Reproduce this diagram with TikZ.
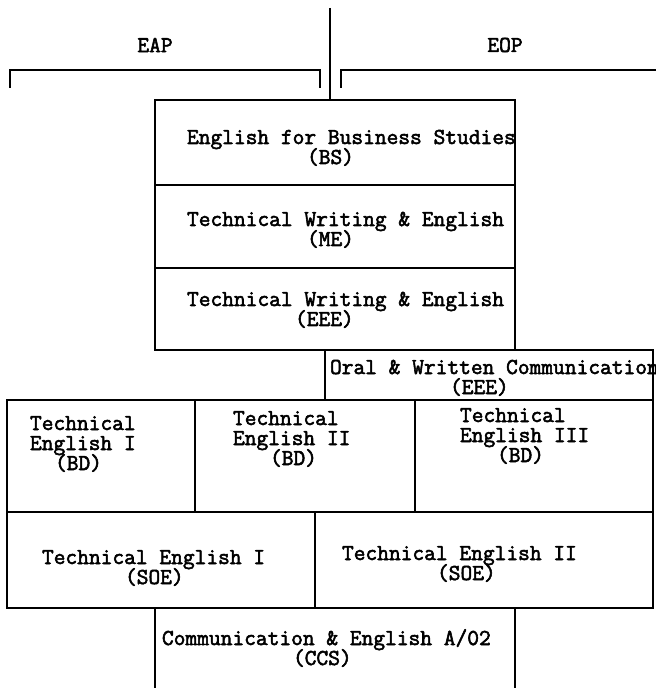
\documentclass[tikz,border=0pt]{standalone}
\usepackage{fontspec}
\newfontfamily\tw{Latin Modern Mono}[FakeBold=2.4]
\begin{document}
\begin{tikzpicture}[x=0.5pt,y=-0.5pt,
  line width=0.9pt,
  box/.style={draw,rectangle,inner sep=0pt,outer sep=0pt,anchor=north west},
  t/.style={inner sep=0pt,outer sep=0pt,anchor=base west,font=\fontsize{11.4}{10}\selectfont\tw},
  hd/.style={inner sep=0pt,anchor=center,font=\fontsize{11.4}{10}\selectfont\tw}]
\useasboundingbox (0,0) rectangle (655,688);
% header
\coordinate (top) at (330,8);
\node[hd] (eap) at (155,45) {EAP};
\node[hd] (eop) at (505,45) {EOP};
\coordinate (l1) at (10,88); \coordinate (l2) at (10,70);
\coordinate (l3) at (320,70); \coordinate (l4) at (320,88);
\coordinate (r1) at (341,88); \coordinate (r2) at (341,70); \coordinate (r3) at (656,70);
\draw (l1) -- (l2) -- (l3) -- (l4);
\draw (r1) -- (r2) -- (r3);
% top stack
\node[box,minimum width=180pt,minimum height=42.5pt] (bs) at (155,100) {};
\node[box,minimum width=180pt,minimum height=41.5pt] (me) at (155,185) {};
\node[box,minimum width=180pt,minimum height=41pt] (eee) at (155,268) {};
\draw (top) -- (top |- bs.north);
% oral
\node[box,minimum width=164pt,minimum height=25pt] (oral) at (325,350) {};
% row 1
\node[box,minimum width=94pt,minimum height=56pt] (bd1) at (7,400) {};
\node[box,minimum width=110pt,minimum height=56pt] (bd2) at (195,400) {};
\node[box,minimum width=119pt,minimum height=56pt] (bd3) at (415,400) {};
% row 2
\node[box,minimum width=154pt,minimum height=48pt] (soe1) at (7,512) {};
\node[box,minimum width=169pt,minimum height=48pt] (soe2) at (315,512) {};
% ccs (open at the bottom)
\coordinate (c1) at (155,690); \coordinate (c2) at (155,608);
\coordinate (c3) at (515,608); \coordinate (c4) at (515,690);
\draw (c1) -- (c2) -- (c3) -- (c4);
% texts
\node[t] (t1) at (187,144) {English for Business Studies};
\node[t] (t2) at (307,164) {(BS)};
\node[t] (t3) at (187,226) {Technical Writing \& English};
\node[t] (t4) at (307,246) {(ME)};
\node[t] (t5) at (187,306) {Technical Writing \& English};
\node[t] (t6) at (295,326) {(EEE)};
\node[t] (t7) at (330,374) {Oral \& Written Communication};
\node[t] (t8) at (450,394) {(EEE)};
\node[t] (t9) at (30,430) {Technical};
\node[t] (t10) at (30,450) {English I};
\node[t] (t11) at (55,470) {(BD)};
\node[t] (t12) at (233,425) {Technical};
\node[t] (t13) at (233,445) {English II};
\node[t] (t14) at (270,465) {(BD)};
\node[t] (t15) at (460,422) {Technical};
\node[t] (t16) at (460,442) {English III};
\node[t] (t17) at (497,462) {(BD)};
\node[t] (t18) at (42,564) {Technical English I};
\node[t] (t19) at (125,584) {(SOE)};
\node[t] (t20) at (342,560) {Technical English II};
\node[t] (t21) at (437,580) {(SOE)};
\node[t] (t22) at (162,645) {Communication \& English A/02};
\node[t] (t23) at (293,665) {(CCS)};
\end{tikzpicture}
\end{document}
